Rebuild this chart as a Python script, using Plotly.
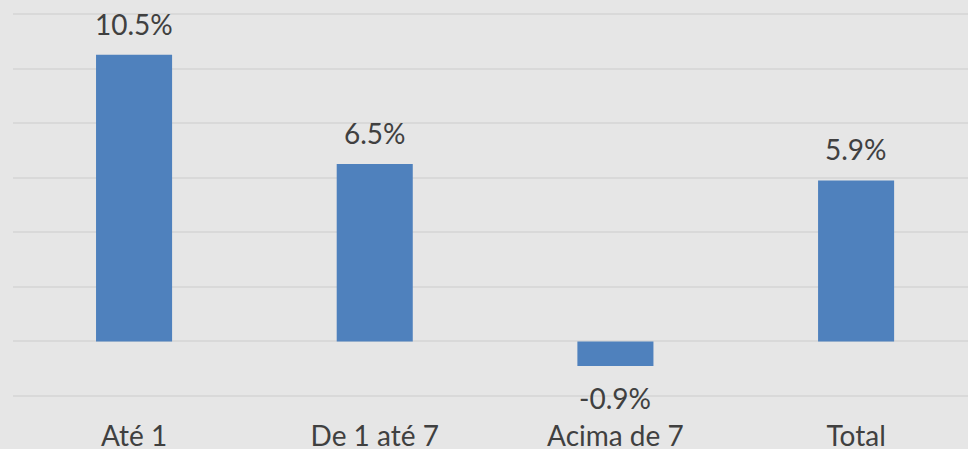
import plotly.graph_objects as go

categories = ["Até 1", "De 1 até 7", "Acima de 7", "Total"]
values = [10.5, 6.5, -0.9, 5.9]
labels = ["10.5%", "6.5%", "-0.9%", "5.9%"]

BG = "#e6e6e6"
GRID = "#d9d9d9"
BAR = "#4f81bd"
TXT = "#404040"
FONT = "Lato"

fig = go.Figure()
fig.add_trace(go.Bar(
    x=list(range(len(categories))), y=values, width=0.316,
    marker=dict(color=BAR, line=dict(width=0)),
    hoverinfo="skip",
))

for i, (v, t) in enumerate(zip(values, labels)):
    fig.add_annotation(
        x=i, y=v, text=t, showarrow=False,
        yshift=31 if v >= 0 else -32, yanchor="middle",
        font=dict(family=FONT, size=28, color=TXT),
    )

fig.update_layout(
    width=968, height=449,
    margin=dict(l=13, r=0, t=12, b=51, autoexpand=False),
    paper_bgcolor=BG, plot_bgcolor=BG,
    showlegend=False,
    xaxis=dict(
        range=[-0.503, 3.465],
        tickmode="array", tickvals=list(range(len(categories))), ticktext=categories,
        showgrid=False, zeroline=False, showline=False, ticks="",
        tickfont=dict(family=FONT, size=28, color=TXT),
        ticklabelstandoff=19, automargin=False,
        fixedrange=True,
    ),
    yaxis=dict(
        range=[-2.07, 12.07], dtick=2, tick0=0,
        showgrid=True, gridcolor=GRID, gridwidth=2,
        zeroline=True, zerolinecolor=GRID, zerolinewidth=2,
        showticklabels=False, showline=False, ticks="",
        automargin=False, fixedrange=True,
    ),
)

fig.write_html(
    "out.html",
    config={"displayModeBar": False},
    post_script="document.body.style.margin='0';document.body.style.padding='0';",
)
